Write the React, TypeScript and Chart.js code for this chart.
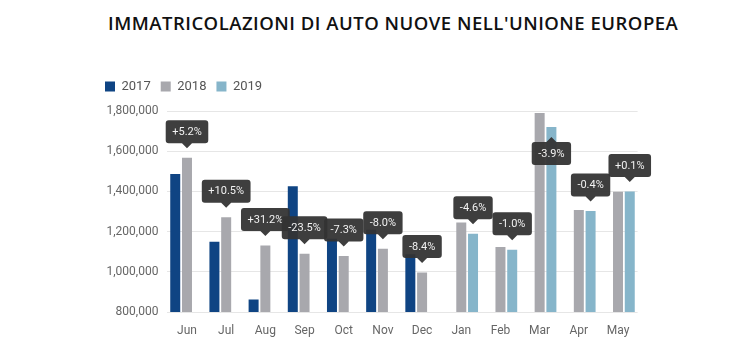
import React, { useEffect, useRef } from "react";
import { Chart, registerables } from "chart.js";

Chart.register(...registerables);

const titleText = "IMMATRICOLAZIONI DI AUTO NUOVE NELL'UNIONE EUROPEA";
const categories = ["Jun", "Jul", "Aug", "Sep", "Oct", "Nov", "Dec", "Jan", "Feb", "Mar", "Apr", "May"];
const seriesNames = ["2017", "2018", "2019"];
const series2017 = [1487000, 1150000, 862000, 1426000, 1164000, 1209000, 1087000, null, null, null, null, null];
const series2018 = [1567000, 1272000, 1131000, 1090000, 1078000, 1115000, 996000, 1245000, 1123000, 1790000, 1308000, 1398000];
const series2019 = [null, null, null, null, null, null, null, 1189000, 1110000, 1720000, 1302000, 1400000];
const changeLabels = ["+5.2%", "+10.5%", "+31.2%", "-23.5%", "-7.3%", "-8.0%", "-8.4%", "-4.6%", "-1.0%", "-3.9%", "-0.4%", "+0.1%"];
const yMin = 800000;
const yMax = 1800000;
const yStep = 200000;

const colors = ["#0f4483", "#a8a8ad", "#86b5ca"];

const legendGapPlugin = {
  id: "legendGap",
  beforeUpdate(chart: any) {
    const lg = chart.legend;
    if (lg && !lg.__gapPatched) {
      const orig = lg.fit.bind(lg);
      lg.fit = function () {
        orig();
        this.height += 8;
      };
      lg.__gapPatched = true;
    }
  },
};

const changePlugin = {
  id: "changeBoxes",
  afterDatasetsDraw(chart: any) {
    const ctx = chart.ctx;
    const area = chart.chartArea;
    ctx.save();
    ctx.font = "11px Roboto";
    categories.forEach((_, i) => {
      let el: any = null;
      for (let d = chart.data.datasets.length - 1; d >= 0; d--) {
        const v = chart.data.datasets[d].data[i];
        if (v !== null && v !== undefined) {
          el = chart.getDatasetMeta(d).data[i];
          break;
        }
      }
      if (!el) return;
      const text = changeLabels[i];
      const tw = ctx.measureText(text).width;
      const w = tw + 13;
      const h = 23;
      const caret = 5;
      const x = el.x;
      let tipY = el.y - 9.5;
      let boxTop = tipY - caret - h;
      let flip = false;
      if (boxTop < area.top) {
        flip = true;
        tipY = el.y + 10;
        boxTop = tipY + caret;
      }
      const left = x - w / 2;
      const r = 3;
      ctx.fillStyle = "rgba(52,52,52,0.95)";
      ctx.beginPath();
      ctx.moveTo(left + r, boxTop);
      if (flip) {
        ctx.lineTo(x - 5, boxTop);
        ctx.lineTo(x, tipY);
        ctx.lineTo(x + 5, boxTop);
      }
      ctx.lineTo(left + w - r, boxTop);
      ctx.quadraticCurveTo(left + w, boxTop, left + w, boxTop + r);
      ctx.lineTo(left + w, boxTop + h - r);
      ctx.quadraticCurveTo(left + w, boxTop + h, left + w - r, boxTop + h);
      if (!flip) {
        ctx.lineTo(x + 5, boxTop + h);
        ctx.lineTo(x, tipY);
        ctx.lineTo(x - 5, boxTop + h);
      }
      ctx.lineTo(left + r, boxTop + h);
      ctx.quadraticCurveTo(left, boxTop + h, left, boxTop + h - r);
      ctx.lineTo(left, boxTop + r);
      ctx.quadraticCurveTo(left, boxTop, left + r, boxTop);
      ctx.closePath();
      ctx.fill();
      ctx.fillStyle = "#f2f2f2";
      ctx.textAlign = "center";
      ctx.textBaseline = "middle";
      ctx.fillText(text, x, boxTop + h / 2 + 0.5);
    });
    ctx.restore();
  },
};

export default function App() {
  const ref = useRef<HTMLCanvasElement | null>(null);
  useEffect(() => {
    if (!ref.current) return;
    const chart = new Chart(ref.current, {
      type: "bar",
      data: {
        labels: categories,
        datasets: [series2017, series2018, series2019].map((d, k) => ({
          label: seriesNames[k],
          data: d as any,
          backgroundColor: colors[k],
          borderWidth: 0,
          categoryPercentage: 0.9,
          barPercentage: 0.85,
        })),
      },
      options: {
        animation: false,
        responsive: false,
        devicePixelRatio: 1,
        layout: { padding: { left: 95, right: 112.4, top: 70, bottom: 9 } },
        plugins: {
          tooltip: { enabled: false },
          title: { display: false },
          legend: {
            display: true,
            position: "top",
            align: "start",
            labels: {
              boxWidth: 10,
              boxHeight: 10,
              padding: 10,
              color: "#555",
              font: { family: "Roboto", size: 13 },
            },
          },
        },
        scales: {
          x: {
            grid: { display: false },
            border: { display: false },
            ticks: { color: "#666", font: { family: "Roboto", size: 12 }, padding: 4 },
            afterFit: (s: any) => {
              s.height = 30;
            },
          },
          y: {
            min: yMin,
            max: yMax,
            grid: { color: "#e6e6e6", drawTicks: false },
            border: { display: false },
            ticks: {
              stepSize: yStep,
              color: "#666",
              padding: 9,
              font: { family: "Roboto", size: 12 },
              callback: (v: any) => Number(v).toLocaleString("en-US"),
            },
            afterFit: (s: any) => {
              s.width = 72.4;
            },
          },
        },
      },
      plugins: [legendGapPlugin, changePlugin],
    });
    return () => chart.destroy();
  }, []);

  return (
    <div style={{ position: "fixed", left: 0, top: 0, width: 750, height: 351, background: "#fff" }}>
      <div
        style={{
          position: "absolute",
          left: 108,
          top: 10,
          fontFamily: "'Open Sans', sans-serif",
          fontWeight: 600,
          fontSize: 18.5,
          letterSpacing: "0.5px",
          color: "#111",
          whiteSpace: "nowrap",
          lineHeight: "26px",
        }}
      >
        {titleText}
      </div>
      <canvas ref={ref} width={750} height={351} style={{ position: "absolute", left: 0, top: 0 }} />
    </div>
  );
}
